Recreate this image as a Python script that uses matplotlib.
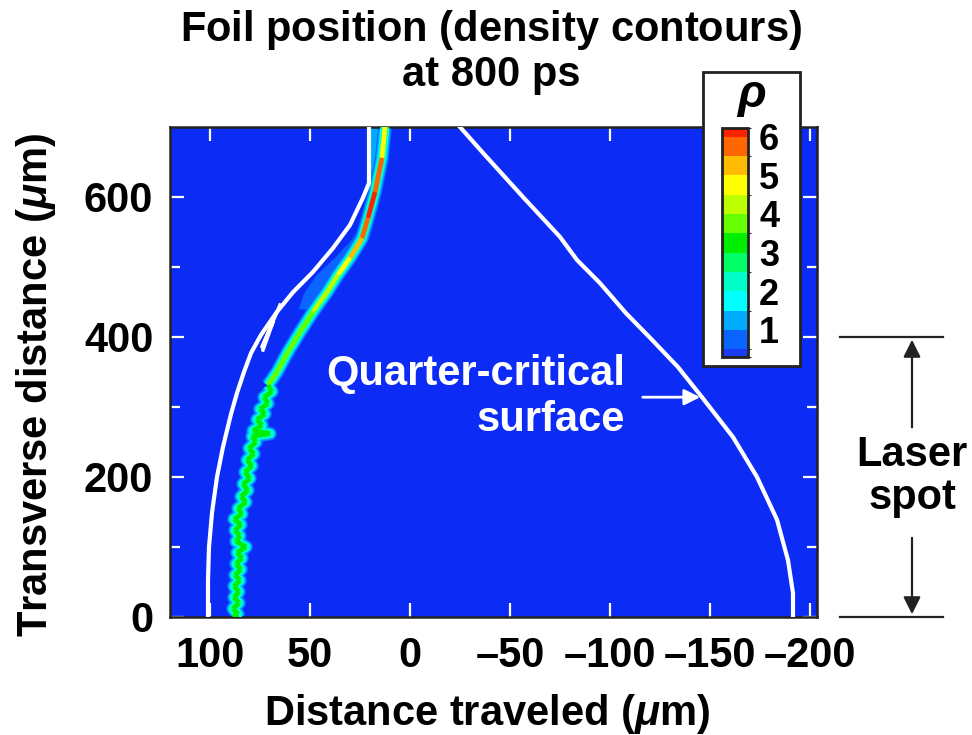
import matplotlib
matplotlib.use("Agg")
import matplotlib.pyplot as plt
import matplotlib.transforms as mtransforms
from matplotlib.colors import ListedColormap, BoundaryNorm
from matplotlib.collections import LineCollection
from matplotlib.patches import Rectangle
import matplotlib.colorbar as mcolorbar
import numpy as np

plt.rcParams['font.family'] = ['Liberation Sans', 'DejaVu Sans']
plt.rcParams['font.weight'] = 'bold'
plt.rcParams['axes.labelweight'] = 'bold'
plt.rcParams['mathtext.fontset'] = 'custom'
plt.rcParams['mathtext.it'] = 'Liberation Sans:italic:bold'
plt.rcParams['mathtext.rm'] = 'Liberation Sans'
plt.rcParams['mathtext.bf'] = 'Liberation Sans:bold'

BG = '#0c2cf6'
FS = 30
LP, RP = '$\\mathrm{(}$', '$\\mathrm{)}$'

# density colour levels (rho)
rho_bounds = [0.3, 0.5, 1.0, 1.5, 2.0, 2.5, 3.0, 3.5, 4.0, 4.5, 5.0, 5.5, 6.0, 6.22]
rho_colors = ['#1a3cf2', '#0a64ff', '#00aaff', '#00ffff', '#00ffc8', '#00ff66',
              '#00ee00', '#66ff00', '#bbff00', '#ffff00', '#ffbb00', '#ff6600', '#ff2200']
rho_ticks = [1, 2, 3, 4, 5, 6]

# foil ridge: upper part (transverse y, distance x, peak density)
foil_top_y = [700, 656, 607, 570, 541, 513, 489, 464, 436, 407, 379, 350, 331]
foil_top_x = [12.5, 14, 17.5, 21, 24, 30, 36, 41.5, 48.5, 55, 61, 66.5, 71]
foil_top_rho = [4.6, 5.2, 6.1, 6.1, 5.6, 4.8, 4.5, 4.2, 4.0, 3.8, 3.7, 3.6, 3.5]

# foil ridge: rippled lower part
foil_low_y = [331, 322, 314, 305, 297, 290, 282, 274, 266, 262, 258, 250, 241, 233,
              224, 216, 207, 198, 190, 181, 172, 164, 155, 147, 140, 132, 124, 116,
              108, 100, 92, 84, 76, 68, 60, 52, 44, 36, 28, 20, 12, 4, 0]
foil_low_x = [71, 69, 73, 71, 75, 72.5, 76.5, 74, 78.5, 70, 79, 77, 80.5, 78,
              81.5, 79, 82.5, 80, 83.5, 81, 84.5, 82, 86, 84, 88, 84.5, 87.5, 85,
              87, 82, 86.5, 84, 87, 84.5, 87.5, 85, 88, 85.5, 88, 85.5, 88.5, 86, 88.5]
foil_low_rho = [3.5, 3.3, 3.6, 3.3, 3.5, 3.2, 3.4, 3.2, 3.5, 2.6, 3.4, 3.2, 3.4, 3.2,
                3.4, 3.1, 3.4, 3.1, 3.3, 3.1, 3.3, 3.1, 3.4, 3.1, 3.3, 3.0, 3.3, 3.1,
                3.3, 2.8, 3.3, 3.0, 3.3, 3.0, 3.3, 3.0, 3.3, 3.0, 3.3, 3.0, 3.3, 3.0, 3.3]

# low-density shoulder behind the foil
halo_y = [565, 541, 513, 489, 464, 440]
halo_in = [22, 24, 30, 36, 41.5, 48]
halo_out = [24, 29, 38, 47, 53, 56]
cap_y = [700, 660, 625]
cap_in = [12.5, 14, 16.5]
cap_out = [20, 20, 19.5]

# rear white contour
rear_y = [700, 620, 599, 560, 527, 493, 464, 436, 403, 377, 350, 320, 290, 243, 200,
          149, 100, 53, 0]
rear_x = [20.5, 20.5, 23.5, 30, 38.5, 48.5, 58.5, 66.5, 74.5, 79.5, 83, 86.5, 89.5,
          93.5, 96.5, 99, 100.5, 101, 101]
kink_y = [445.7, 385.7, 421.4, 381.4]
kink_x = [65, 74, 68.5, 73.5]

# quarter-critical surface
qc_y = [700, 663, 600, 543, 510, 477, 434, 396, 357, 314, 257, 200, 139, 81, 34, 0]
qc_x = [-25, -36.5, -56.5, -75, -83.5, -95, -108, -121, -134, -146, -161.5,
        -173.5, -183.5, -189, -191.5, -191.5]

x_ticks = [100, 50, 0, -50, -100, -150, -200]
x_labels = ['100', '50', '0', '\u201350', '\u2013100', '\u2013150', '\u2013200']
y_ticks = [0, 200, 400, 600]

cmap = ListedColormap(rho_colors)
norm = BoundaryNorm(rho_bounds, cmap.N)

fig = plt.figure(figsize=(9.72, 7.35), dpi=100)
ax = fig.add_axes([170 / 972, 1 - 617 / 735, 647 / 972, 490 / 735])
ax.set_facecolor(BG)
ax.set_xlim(120, -203.5)
ax.set_ylim(0, 700)

# shoulders
ax.fill_betweenx(halo_y, halo_in, halo_out, color='#0a64ff', lw=0, zorder=1)
ax.fill_betweenx(cap_y, cap_in, cap_out, color='#00aaff', lw=0, zorder=1)


def draw_foil(xs, ys, rho):
    ax.plot(xs, ys, color='#0a64ff', lw=10, solid_capstyle='butt', zorder=2)
    ax.plot(xs, ys, color='#00aaff', lw=8.5, solid_capstyle='butt', zorder=2)
    ax.plot(xs, ys, color='#00ffd0', lw=6.5, solid_capstyle='butt', zorder=3)
    pts = np.column_stack([xs, ys]).reshape(-1, 1, 2)
    segs = np.concatenate([pts[:-1], pts[1:]], axis=1)
    vals = [(rho[i] + rho[i + 1]) / 2 for i in range(len(rho) - 1)]
    lc = LineCollection(segs, colors=cmap(norm(vals)), linewidths=3.4, zorder=4)
    ax.add_collection(lc)


draw_foil(foil_top_x, foil_top_y, foil_top_rho)
draw_foil(foil_low_x, foil_low_y, foil_low_rho)

ax.plot(rear_x, rear_y, color='white', lw=3, zorder=5)
ax.plot(kink_x, kink_y, color='white', lw=2.5, zorder=5)
ax.plot(qc_x, qc_y, color='white', lw=3, zorder=5)

ax.text(-107.5, 347, 'Quarter-critical', color='white', fontsize=FS, ha='right', va='center')
ax.text(-107.5, 282, 'surface', color='white', fontsize=FS, ha='right', va='center')
ax.annotate('', xy=(-146.5, 314), xytext=(-115, 314),
            arrowprops=dict(arrowstyle='-|>', color='white', lw=2, mutation_scale=24))

ax.set_xticks(x_ticks)
ax.set_xticklabels(x_labels)
ax.set_yticks(y_ticks)
ax.set_yticks([100, 300, 500], minor=True)
ax.tick_params(which='both', direction='in', color='white', top=True, right=True,
               labelsize=FS, width=1.6)
ax.tick_params(axis='x', which='major', length=10, pad=14)
ax.tick_params(axis='y', which='major', length=10, pad=12)
ax.tick_params(axis='y', which='minor', length=7)
for s in ax.spines.values():
    s.set_color('#222222')
    s.set_linewidth(1.8)

ax.set_xlabel('Distance traveled ' + LP + '$\\mu$m' + RP, fontsize=FS)
ax.set_ylabel('Transverse distance ' + LP + '$\\mu$m' + RP, fontsize=FS)
ax.xaxis.set_label_coords((487 - 170) / 647, (617 - 692) / 490)
ax.yaxis.set_label_coords((58 - 170) / 647, (617 - 385) / 490)

fig.text(491 / 972, 1 - 30 / 735, 'Foil position ' + LP + 'density contours' + RP,
         fontsize=FS, ha='center', va='center')
fig.text(491 / 972, 1 - 75 / 735, 'at 800 ps', fontsize=FS, ha='center', va='center')

# colour key box
box = Rectangle((703 / 972, 1 - 366 / 735), 97 / 972, 294 / 735, transform=fig.transFigure,
                facecolor='white', edgecolor='#222222', lw=2, zorder=3)
fig.patches.append(box)
cax = fig.add_axes([722 / 972, 1 - 357 / 735, 26 / 972, 229 / 735])
cax.set_zorder(5)
cb = mcolorbar.ColorbarBase(cax, cmap=cmap, norm=norm, boundaries=rho_bounds,
                            spacing='proportional', ticks=rho_ticks)
cb.outline.set_linewidth(2)
cb.outline.set_edgecolor('#222222')
cax.tick_params(length=0, labelsize=26, pad=8)
fig.text(751 / 972, 1 - 97 / 735, '$\\rho$', fontsize=34, ha='center', va='center', zorder=6)

# laser spot marker
trans = mtransforms.blended_transform_factory(fig.transFigure, ax.transData)
for yv in [400, 0]:
    ax.plot([840 / 972, 943 / 972], [yv, yv], color='#222222', lw=1.6,
            transform=trans, clip_on=False)
ax.annotate('', xy=(912 / 972, 400), xytext=(912 / 972, 267), xycoords=trans,
            textcoords=trans, arrowprops=dict(arrowstyle='-|>', color='#222222', lw=1.6,
                                              mutation_scale=26))
ax.annotate('', xy=(912 / 972, 0), xytext=(912 / 972, 117), xycoords=trans,
            textcoords=trans, arrowprops=dict(arrowstyle='-|>', color='#222222', lw=1.6,
                                              mutation_scale=26))
ax.text(912 / 972, 201, 'Laser\nspot', transform=trans, fontsize=FS, ha='center',
        va='center', linespacing=1.1, clip_on=False)

fig.savefig('out.png', dpi=100)
